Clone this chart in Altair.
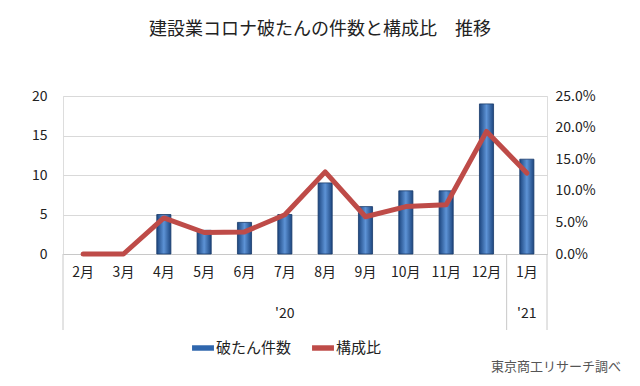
import altair as alt
import pandas as pd

months = ["2月", "3月", "4月", "5月", "6月", "7月", "8月", "9月", "10月", "11月", "12月", "1月"]
counts = [0, 0, 5, 3, 4, 5, 9, 6, 8, 8, 19, 12]
ratios = [0.0, 0.0, 0.057, 0.034, 0.035, 0.062, 0.130, 0.059, 0.075, 0.078, 0.194, 0.128]
year_labels = ["'20", "'21"]
year_centers = ["7月", "1月"]
series = ["破たん件数", "構成比"]
title_text = "建設業コロナ破たんの件数と構成比　推移"
source_text = "東京商工リサーチ調べ"

df = pd.DataFrame({"month": months, "count": counts, "ratio": ratios})
df["s_bar"] = series[0]
df["s_line"] = series[1]
years = pd.DataFrame({"month": year_centers, "label": year_labels})
edges_left = pd.DataFrame({"month": ["2月", "1月"]})
edges_right = pd.DataFrame({"month": ["1月"]})

FONT = "Noto Sans CJK JP"
W, H = 484, 158

xscale = alt.Scale(domain=months, paddingInner=0, paddingOuter=0)
color_scale = alt.Scale(domain=series, range=["#2f66ad", "#be4b48"])

bar_grad = alt.Gradient(
    gradient="linear", x1=0, x2=1, y1=0, y2=0,
    stops=[alt.GradientStop(color="#1d467f", offset=0),
           alt.GradientStop(color="#5d93d6", offset=0.5),
           alt.GradientStop(color="#1d467f", offset=1)])

base = alt.Chart(df)

bars = base.mark_bar(width={"band": 0.35}, fill=bar_grad, stroke="#183a6a", strokeWidth=0.8).encode(
    x=alt.X("month:N", scale=xscale, sort=months,
            axis=alt.Axis(title=None, labelAngle=0, ticks=False, domainColor="#c8c8c8",
                          labelFontSize=14, labelColor="#222", labelPadding=11, labelFont=FONT,
                          grid=False)),
    y=alt.Y("count:Q", scale=alt.Scale(domain=[0, 20]),
            axis=alt.Axis(title=None, values=[0, 5, 10, 15, 20], ticks=False, domain=False,
                          labelFontSize=14, labelColor="#222", labelPadding=16, labelFont=FONT,
                          gridColor="#d9d9d9", gridWidth=1.2)),
    strokeOpacity=alt.condition("datum.count > 0", alt.value(1), alt.value(0)),
    color=alt.Color("s_bar:N", scale=color_scale,
                    legend=alt.Legend(title=None, orient="none", legendX=129, legendY=241,
                                      direction="horizontal", columnPadding=20,
                                      symbolType="M-1,-0.25H1V0.25H-1Z", symbolSize=480,
                                      symbolStrokeWidth=0, labelFontSize=15, labelColor="#222",
                                      labelFont=FONT, labelOffset=2)),
)

line = base.mark_line(strokeWidth=5, strokeCap="round", strokeJoin="round").encode(
    x=alt.X("month:N", scale=xscale, sort=months),
    y=alt.Y("ratio:Q", scale=alt.Scale(domain=[0, 0.25]),
            axis=alt.Axis(title=None, orient="right", format=".1%",
                          values=[0, 0.05, 0.10, 0.15, 0.20, 0.25], ticks=False, domain=False,
                          grid=False, labelOverlap=False, labelFontSize=14, labelColor="#222",
                          labelPadding=8, labelFont=FONT)),
    color=alt.Color("s_line:N", scale=color_scale),
)

rules_l = alt.Chart(edges_left).mark_rule(color="#c8c8c8", strokeWidth=1).encode(
    x=alt.X("month:N", scale=xscale, sort=months, bandPosition=0),
    y=alt.value(H), y2=alt.value(H + 76))
rules_r = alt.Chart(edges_right).mark_rule(color="#c8c8c8", strokeWidth=1).encode(
    x=alt.X("month:N", scale=xscale, sort=months, bandPosition=1),
    y=alt.value(H), y2=alt.value(H + 76))

year_text = alt.Chart(years).mark_text(fontSize=14, color="#222", font=FONT).encode(
    x=alt.X("month:N", scale=xscale, sort=months),
    y=alt.value(H + 60), text="label:N")

src = alt.Chart(pd.DataFrame({"t": [source_text]})).mark_text(
    fontSize=13, color="#555", font=FONT, align="right").encode(
    x=alt.value(W + 74), y=alt.value(H + 113), text="t:N")

chart = alt.layer(bars, line, rules_l, rules_r, year_text, src).resolve_scale(
    y="independent"
).properties(
    width=W, height=H,
    title=alt.TitleParams(title_text, fontSize=18, font=FONT, fontWeight="normal",
                          color="#222", anchor="middle", dx=15, offset=50),
    autosize=alt.AutoSizeParams(type="none"),
    padding={"left": 55, "top": 88, "right": 85, "bottom": 124},
).configure_view(stroke=None).configure(background="white")

chart.save("out.html", embed_options={"renderer": "svg", "actions": False})
